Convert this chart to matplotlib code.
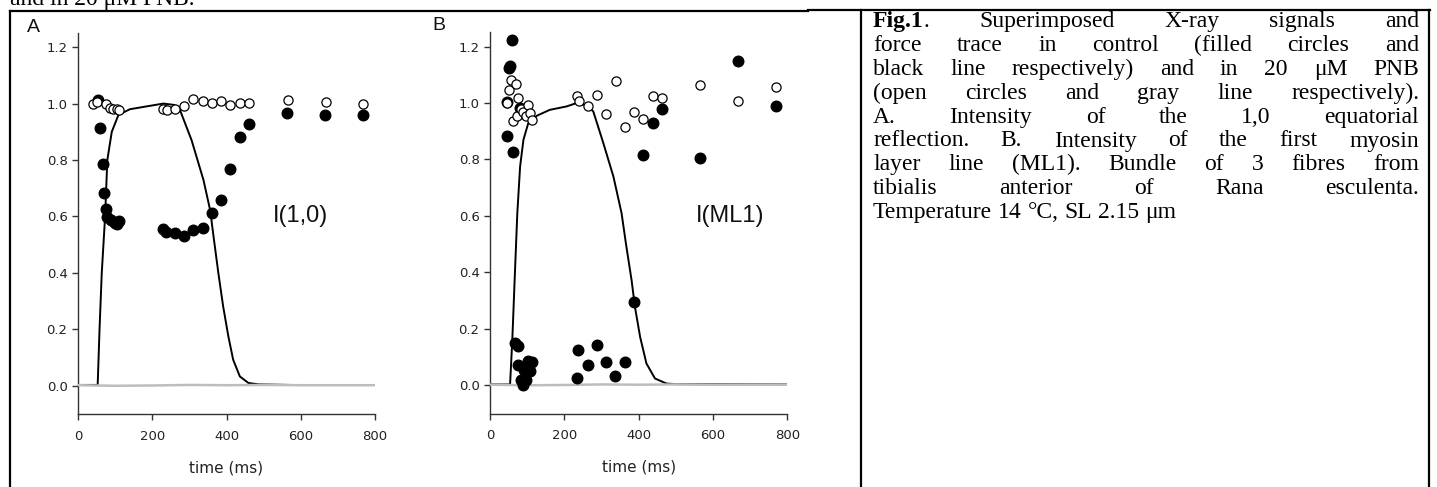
import numpy as np
import matplotlib.pyplot as plt
from matplotlib.lines import Line2D

W, H = 1437, 487

# ---- panel A : I(1,0) ----
a_ctrl_t = [55, 59, 66, 71, 75, 79, 89, 100, 106, 110, 230, 236, 261, 286, 311,
            336, 361, 385, 410, 436, 461, 562, 665, 769]
a_ctrl_i = [1.014, 0.915, 0.785, 0.684, 0.628, 0.599, 0.587, 0.578, 0.573, 0.584,
            0.557, 0.545, 0.542, 0.531, 0.551, 0.560, 0.611, 0.660, 0.767, 0.880,
            0.929, 0.965, 0.961, 0.961]
a_pnb_t = [41, 50, 75, 86, 95, 104, 111, 230, 239, 261, 286, 311, 336, 361, 385,
           410, 436, 461, 567, 668, 769]
a_pnb_i = [1.00, 1.006, 1.00, 0.986, 0.982, 0.982, 0.976, 0.982, 0.978, 0.982,
           0.992, 1.017, 1.008, 1.002, 1.008, 0.996, 1.002, 1.002, 1.012, 1.004, 1.00]
a_force_t = [0, 53, 58, 64, 73, 79, 91, 109, 140, 185, 230, 260, 275, 306, 338,
             356, 365, 372, 378, 391, 405, 418, 436, 459, 486, 570]
a_force_f = [0.003, 0.003, 0.2, 0.4, 0.6, 0.8, 0.9, 0.96, 0.98, 0.99, 1.0, 0.995,
             0.976, 0.870, 0.729, 0.622, 0.53, 0.46, 0.40, 0.281, 0.175, 0.092,
             0.033, 0.010, 0.005, 0.003]

# ---- panel B : I(ML1) ----
b_ctrl_t = [58, 50, 55, 47, 45, 63, 81, 413, 438, 464, 565, 666, 769,
            67, 74, 76, 83, 88, 91, 97, 103, 108, 114,
            233, 238, 263, 287, 312, 337, 363, 387]
b_ctrl_i = [1.222, 1.124, 1.130, 1.002, 0.882, 0.828, 0.982, 0.817, 0.929, 0.980,
            0.805, 1.148, 0.988,
            0.150, 0.138, 0.071, 0.020, 0.000, 0.053, 0.018, 0.086, 0.051, 0.083,
            0.027, 0.124, 0.073, 0.142, 0.083, 0.032, 0.083, 0.296]
b_pnb_t = [47, 51, 56, 69, 76, 63, 72, 83, 90, 96, 103, 108, 114, 233, 239, 263,
           287, 312, 338, 363, 388, 413, 438, 464, 565, 666, 769]
b_pnb_i = [1.00, 1.045, 1.080, 1.068, 1.018, 0.935, 0.955, 0.979, 0.970, 0.953,
           0.994, 0.965, 0.941, 1.026, 1.008, 0.990, 1.027, 0.962, 1.079, 0.914,
           0.970, 0.944, 1.024, 1.018, 1.064, 1.008, 1.057]
b_force_t = [0, 54, 60, 67, 73.5, 81, 90, 103, 126, 161, 206, 233, 263, 278, 305,
             332, 354, 366, 381, 390, 404, 421, 444, 475, 500, 800]
b_force_f = [0.003, 0.003, 0.16, 0.396, 0.61, 0.775, 0.87, 0.929, 0.955, 0.976,
             0.988, 1.0, 0.99, 0.97, 0.858, 0.740, 0.610, 0.50, 0.372, 0.278,
             0.171, 0.077, 0.024, 0.006, 0.004, 0.003]

# PNB force trace (gray, flat)
pnb_force_t = [0, 100, 200, 300, 400, 500, 600, 700, 800]
pnb_force_f = [0.002, 0.0, 0.001, 0.003, 0.002, 0.003, 0.002, 0.002, 0.002]

xticks = [0, 200, 400, 600, 800]
yticks = [0.0, 0.2, 0.4, 0.6, 0.8, 1.0, 1.2]

caption = [
    "Fig.1. Superimposed X-ray signals and",
    "force trace in control (filled circles and",
    "black line respectively) and in 20 \u03bcM PNB",
    "(open circles and gray line respectively).",
    "A. Intensity of the 1,0 equatorial",
    "reflection. B. Intensity of the first myosin",
    "layer line (ML1). Bundle of 3 fibres from",
    "tibialis anterior of Rana esculenta.",
    "Temperature 14 \u00b0C, SL 2.15 \u03bcm",
]

plt.rcParams['font.family'] = ['Liberation Sans', 'DejaVu Sans']
fig = plt.figure(figsize=(W / 100, H / 100), dpi=100)

axc = '#333333'


def panel(rect, ctrl_t, ctrl_i, pnb_t, pnb_i, force_t, force_f, label, letter, lab_pos):
    ax = fig.add_axes(rect)
    ax.plot(force_t, force_f, color='black', lw=1.4, zorder=2)
    ax.plot(pnb_force_t, pnb_force_f, color='#bdbdbd', lw=1.8, zorder=3)
    ax.plot(ctrl_t, ctrl_i, 'o', color='black', ms=7.6, zorder=4, clip_on=False)
    ax.plot(pnb_t, pnb_i, 'o', mfc='white', mec='black', mew=0.9, ms=6.6,
            zorder=5, clip_on=False)
    ax.set_xlim(0, 800)
    ax.set_ylim(-0.1, 1.25)
    ax.set_xticks(xticks)
    ax.set_yticks(yticks)
    ax.set_yticklabels([f"{v:.1f}" for v in yticks])
    for s in ['top', 'right']:
        ax.spines[s].set_visible(False)
    for s in ['left', 'bottom']:
        ax.spines[s].set_color(axc)
        ax.spines[s].set_linewidth(1.0)
    ax.tick_params(colors=axc, length=4.5, width=1.0)
    ax.tick_params(axis='x', pad=7)
    ax.tick_params(axis='y', pad=3)
    for t in ax.get_xticklabels() + ax.get_yticklabels():
        t.set_color('#222222')
        t.set_family(['DejaVu Sans'])
        t.set_fontsize(9.5)
    ax.set_xlabel("time (ms)", fontsize=11, color='#222222', labelpad=12.5,
                  family=['DejaVu Sans'])
    ax.text(lab_pos[0], lab_pos[1], label, fontsize=17, ha='center', va='center',
            color='#111111')
    fig.text(letter[1] / W, 1 - letter[2] / H, letter[0], fontsize=14,
             ha='center', va='center', color='#111111')
    return ax


panel([78 / W, 1 - 414 / H, 297 / W, 381 / H], a_ctrl_t, a_ctrl_i, a_pnb_t, a_pnb_i,
      a_force_t, a_force_f, "I(1,0)", ("A", 33, 27), (598, 0.6))
panel([490 / W, 1 - 413.5 / H, 297.3 / W, 381 / H], b_ctrl_t, b_ctrl_i, b_pnb_t, b_pnb_i,
      b_force_t, b_force_f, "I(ML1)", ("B", 439, 26), (646, 0.6))

# frame lines of the page layout (pixel coords)
def hline(x0, x1, y):
    fig.add_artist(Line2D([x0 / W, x1 / W], [1 - y / H, 1 - y / H], color='black', lw=1.6))


def vline(x, y0, y1):
    fig.add_artist(Line2D([x / W, x / W], [1 - y0 / H, 1 - y1 / H], color='black', lw=1.6))


hline(10, 808, 11)
hline(808, 1430, 10)
vline(10, 11, 487)
vline(861, 10, 487)
vline(1429, 10, 487)

serif = ['Liberation Serif', 'DejaVu Serif']
cap_fs = 17

fig.text(10 / W, 1 - 5 / H, "and in 20 \u03bcM PNB.", family=serif, fontsize=cap_fs,
         va='baseline', ha='left')

# justified caption
renderer = fig.canvas.get_renderer()
x_left, x_right = 873, 1419
base0, step = 27, 23.9


def word_width(txt, weight):
    t = fig.text(0, 0, txt, family=serif, fontsize=cap_fs, fontweight=weight)
    w = t.get_window_extent(renderer).width
    t.remove()
    return w


for i, line in enumerate(caption):
    words = line.split(' ')
    segs = []
    for w in words:
        if w.startswith("Fig.1"):
            segs.append([("Fig.1", 'bold'), (w[5:], 'normal')])
        else:
            segs.append([(w, 'normal')])
    widths = [sum(word_width(s, wt) for s, wt in sg) for sg in segs]
    last = i == len(caption) - 1
    if last or len(segs) == 1:
        gap = word_width("a a", 'normal') - 2 * word_width("a", 'normal')
    else:
        gap = (x_right - x_left - sum(widths)) / (len(segs) - 1)
    y = 1 - (base0 + i * step) / H
    x = x_left
    for sg, wd in zip(segs, widths):
        xx = x
        for s, wt in sg:
            fig.text(xx / W, y, s, family=serif, fontsize=cap_fs, fontweight=wt,
                     va='baseline', ha='left')
            xx += word_width(s, wt)
        x += wd + gap

fig.savefig("out.png", dpi=100)
